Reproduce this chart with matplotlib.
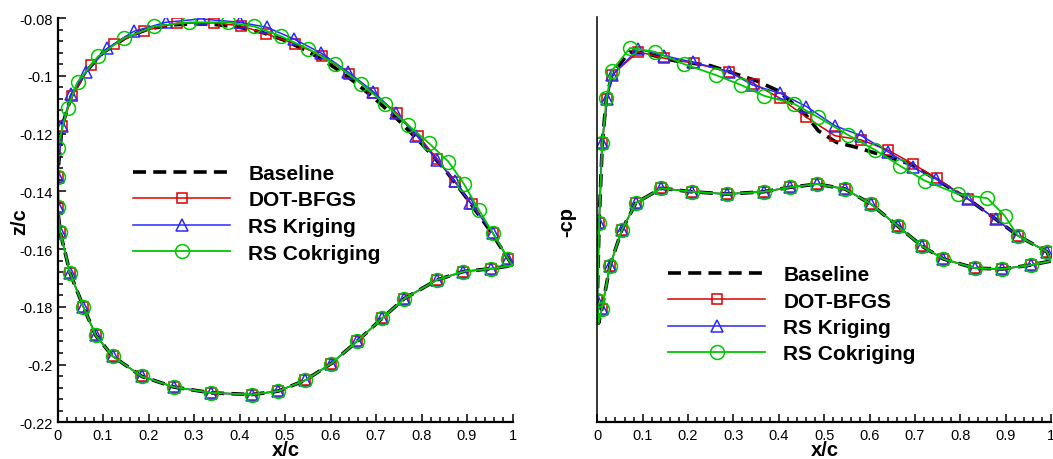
import matplotlib
matplotlib.use("Agg")
import matplotlib.pyplot as plt
from matplotlib.ticker import MultipleLocator, FuncFormatter

plt.rcParams['font.family'] = ['Liberation Sans', 'DejaVu Sans']

# ---------------- data : left panel (airfoil shape z/c vs x/c) ----------------
# lower surface (shared by all designs), leading edge -> trailing edge
x_low = [0.006, 0.0275, 0.057, 0.084, 0.121, 0.185, 0.256, 0.338, 0.427, 0.485,
         0.544, 0.601, 0.659, 0.714, 0.762, 0.834, 0.892, 0.953, 1.0]
z_low = [-0.1542, -0.1683, -0.1801, -0.1899, -0.1971, -0.2041, -0.2078, -0.2098, -0.2104, -0.2092,
         -0.2055, -0.1997, -0.1919, -0.1839, -0.1772, -0.1707, -0.1678, -0.1668, -0.1657]

# upper surfaces, leading edge -> trailing edge
x_up_base = [0.0, 0.0, 0.01, 0.03, 0.06, 0.10, 0.15, 0.20, 0.25, 0.30, 0.35, 0.40, 0.45, 0.50,
             0.55, 0.60, 0.65, 0.70, 0.75, 0.80, 0.85, 0.90, 0.95, 1.0]
z_up_base = [-0.1455, -0.135, -0.1175, -0.1072, -0.0990, -0.0920, -0.0868, -0.0838, -0.0824, -0.0820,
             -0.0823, -0.0832, -0.0850, -0.0878, -0.0915, -0.0962, -0.1018, -0.1083, -0.1155, -0.1235,
             -0.1322, -0.1425, -0.1535, -0.1657]

x_up_dot = [0.0, 0.0, 0.0106, 0.0326, 0.073, 0.124, 0.190, 0.263, 0.344, 0.403, 0.459, 0.522, 0.581,
            0.640, 0.694, 0.746, 0.793, 0.834, 0.874, 0.910, 0.957, 0.991, 1.0]
z_up_dot = [-0.1455, -0.135, -0.1173, -0.1069, -0.0963, -0.0890, -0.0844, -0.0818, -0.0817, -0.0827,
            -0.0855, -0.0890, -0.0930, -0.0994, -0.1060, -0.1130, -0.1207, -0.1288, -0.1369, -0.1444,
            -0.1545, -0.1636, -0.1657]

x_up_krg = [0.0, 0.0, 0.0106, 0.0297, 0.0626, 0.1095, 0.168, 0.238, 0.315, 0.401, 0.460, 0.520, 0.579,
            0.638, 0.694, 0.743, 0.789, 0.833, 0.874, 0.907, 0.957, 0.991, 1.0]
z_up_krg = [-0.1455, -0.135, -0.1173, -0.1063, -0.0988, -0.0905, -0.0846, -0.0815, -0.0803, -0.0815,
            -0.0832, -0.0873, -0.0921, -0.0986, -0.1055, -0.1130, -0.1207, -0.1291, -0.1366, -0.1440,
            -0.1545, -0.1636, -0.1657]

x_up_ck = [0.0, 0.0, 0.0, 0.022, 0.044, 0.089, 0.146, 0.213, 0.289, 0.374, 0.432, 0.491, 0.551, 0.610,
           0.668, 0.720, 0.770, 0.816, 0.859, 0.893, 0.926, 0.957, 0.991, 1.0]
z_up_ck = [-0.1455, -0.135, -0.125, -0.1111, -0.1022, -0.0933, -0.0870, -0.0829, -0.0815, -0.0815,
           -0.0829, -0.0863, -0.0907, -0.0959, -0.1028, -0.1098, -0.1170, -0.1233, -0.1297, -0.1374,
           -0.1464, -0.1545, -0.1636, -0.1657]

# ---------------- data : right panel (-cp vs x/c) ----------------
# lower surface (shared), stagnation point -> trailing edge
x_cp_lo = [0.003, 0.010, 0.028, 0.054, 0.085, 0.141, 0.208, 0.285, 0.367, 0.425, 0.485, 0.546,
           0.603, 0.662, 0.716, 0.763, 0.833, 0.893, 0.955, 1.0]
cp_lo = [-0.914, -0.817, -0.517, -0.271, -0.084, 0.018, -0.006, -0.022, -0.006, 0.025, 0.047, 0.013,
         -0.091, -0.243, -0.383, -0.471, -0.535, -0.540, -0.513, -0.485]

# upper surfaces, stagnation point -> trailing edge
x_cp_up_base = [0.003, 0.0, 0.004, 0.011, 0.020, 0.032, 0.07, 0.10, 0.17, 0.25, 0.35, 0.40, 0.461,
                0.487, 0.527, 0.571, 0.612, 0.645, 0.696, 0.746, 0.817, 0.878, 0.927, 0.991, 1.0]
cp_up_base = [-0.914, -0.753, -0.222, 0.331, 0.640, 0.80, 0.96, 0.955, 0.90, 0.865, 0.762, 0.69, 0.52,
              0.416, 0.336, 0.301, 0.262, 0.232, 0.178, 0.08, -0.056, -0.195, -0.310, -0.421, -0.485]

x_cp_up_dot = [0.003, 0.0, 0.004, 0.011, 0.022, 0.032, 0.090, 0.148, 0.214, 0.291, 0.346, 0.403, 0.461,
               0.524, 0.582, 0.640, 0.696, 0.748, 0.817, 0.878, 0.927, 0.991, 1.0]
cp_up_dot = [-0.914, -0.753, -0.222, 0.331, 0.635, 0.801, 0.962, 0.917, 0.882, 0.824, 0.739, 0.640, 0.509,
             0.381, 0.352, 0.283, 0.186, 0.087, -0.056, -0.195, -0.310, -0.421, -0.485]

x_cp_up_krg = [0.003, 0.0, 0.004, 0.010, 0.022, 0.033, 0.090, 0.148, 0.212, 0.291, 0.342, 0.403, 0.461,
               0.524, 0.582, 0.640, 0.696, 0.746, 0.817, 0.878, 0.927, 0.991, 1.0]
cp_up_krg = [-0.914, -0.753, -0.222, 0.331, 0.635, 0.801, 0.980, 0.934, 0.889, 0.824, 0.732, 0.675, 0.583,
             0.450, 0.381, 0.271, 0.163, 0.082, -0.056, -0.195, -0.310, -0.421, -0.485]

x_cp_up_ck = [0.003, 0.0, 0.004, 0.011, 0.020, 0.032, 0.072, 0.127, 0.191, 0.261, 0.317, 0.367, 0.434,
              0.487, 0.553, 0.612, 0.667, 0.722, 0.795, 0.860, 0.898, 0.927, 0.991, 1.0]
cp_up_ck = [-0.914, -0.753, -0.222, 0.331, 0.640, 0.831, 0.988, 0.962, 0.877, 0.801, 0.732, 0.658, 0.601,
            0.509, 0.386, 0.283, 0.174, 0.070, -0.022, -0.051, -0.172, -0.310, -0.421, -0.485]

labels = ["Baseline", "DOT-BFGS", "RS Kriging", "RS Cokriging"]
x_ticks = [0, 0.1, 0.2, 0.3, 0.4, 0.5, 0.6, 0.7, 0.8, 0.9, 1]
z_ticks = [-0.22, -0.2, -0.18, -0.16, -0.14, -0.12, -0.1, -0.08]

# ---------------- styling ----------------
RED = '#DD0000'
BLUE = '#2828FF'
GREEN = '#00C800'
W, H = 1053, 460
fig = plt.figure(figsize=(W / 100, H / 100), dpi=100)

ax1 = fig.add_axes([57.5 / W, 1 - 423.3 / H, 455 / W, (423.3 - 19) / H])
ax2 = fig.add_axes([597.3 / W, 1 - 423.3 / H, 453.7 / W, (423.3 - 18.3) / H])

fmt = FuncFormatter(lambda v, p: ('%g' % round(v, 4)))

series_style = [
    dict(color='black', lw=2.6, ls=(0, (3.6, 2.0)), marker=None),
    dict(color=RED, lw=1.1, ls='-', marker='s', ms=7.5),
    dict(color=BLUE, lw=1.1, ls='-', marker='^', ms=8.5),
    dict(color=GREEN, lw=1.3, ls='-', marker='o', ms=10),
]


def plot_series(ax, x, y, st, label, mk_idx):
    kw = dict(color=st['color'], lw=st['lw'], ls=st['ls'], label=label)
    if st['marker']:
        kw.update(marker=st['marker'], ms=st['ms'], mfc='none', mec=st['color'],
                  mew=1.1, markevery=mk_idx)
    return ax.plot(x, y, **kw)[0]


# ----- left panel -----
uppers = [(x_up_base, z_up_base), (x_up_dot, z_up_dot), (x_up_krg, z_up_krg), (x_up_ck, z_up_ck)]
handles = []
for (xu, zu), st, lab in zip(uppers, series_style, labels):
    xs = list(reversed(xu)) + x_low
    zs = list(reversed(zu)) + z_low
    idx = list(range(1, len(xs) - 1))
    handles.append(plot_series(ax1, xs, zs, st, lab, idx))

ax1.set_xlim(0, 1)
ax1.set_ylim(-0.22, -0.08)
ax1.set_xticks(x_ticks)
ax1.set_yticks(z_ticks)
ax1.xaxis.set_major_formatter(fmt)
ax1.yaxis.set_major_formatter(fmt)
ax1.xaxis.set_minor_locator(MultipleLocator(0.02))
ax1.yaxis.set_minor_locator(MultipleLocator(0.004))
for s in ['top', 'right']:
    ax1.spines[s].set_visible(False)
for s in ['left', 'bottom']:
    ax1.spines[s].set_linewidth(1.6)
ax1.tick_params(which='both', direction='in', labelsize=10.5, width=1.1, color='black')
ax1.tick_params(which='major', length=6)
ax1.tick_params(which='minor', length=3.5)
ax1.tick_params(axis='x', pad=4)
ax1.tick_params(axis='y', pad=3.5)

# ----- right panel -----
cp_uppers = [(x_cp_up_base, cp_up_base), (x_cp_up_dot, cp_up_dot),
             (x_cp_up_krg, cp_up_krg), (x_cp_up_ck, cp_up_ck)]
handles2 = []
for (xu, cu), st, lab in zip(cp_uppers, series_style, labels):
    xs = list(reversed(x_cp_lo)) + xu[1:]
    cs = list(reversed(cp_lo)) + cu[1:]
    nlo = len(x_cp_lo)
    idx = [i for i in range(1, len(xs) - 1) if i != nlo - 1]
    handles2.append(plot_series(ax2, xs, cs, st, lab, idx))

ax2.set_xlim(0, 1)
ax2.set_ylim(-1.6, 1.2)
ax2.set_xticks(x_ticks)
ax2.xaxis.set_major_formatter(fmt)
ax2.xaxis.set_minor_locator(MultipleLocator(0.02))
ax2.set_yticks([])
for s in ['top', 'right']:
    ax2.spines[s].set_visible(False)
ax2.spines['bottom'].set_linewidth(1.6)
ax2.spines['left'].set_linewidth(1.1)
ax2.tick_params(axis='x', which='both', direction='in', labelsize=10.5, width=1.1, pad=4)
ax2.tick_params(axis='x', which='major', length=6)
ax2.tick_params(axis='x', which='minor', length=3.5)
for a in (ax1, ax2):
    for t in a.get_xticklabels():
        t.set_clip_on(False)

# ----- axis labels -----
lab_kw = dict(fontsize=14.5, fontweight='bold', ha='center', va='center')
fig.text(286 / W, 1 - 451 / H, 'x/c', **lab_kw)
fig.text(825 / W, 1 - 451 / H, 'x/c', **lab_kw)
fig.text(20 / W, 1 - 222 / H, 'z/c', rotation=90, **lab_kw)
fig.text(567 / W, 1 - 222 / H, '-cp', rotation=90, **lab_kw)

# ----- legends -----
leg_kw = dict(frameon=False, loc='upper left', handlelength=4.66, handletextpad=0.87,
              labelspacing=0.36, borderpad=0, borderaxespad=0, numpoints=1,
              prop=dict(size=15, weight='bold'))
fig.legend(handles, labels, bbox_to_anchor=(133 / W, 1 - 165 / H), **leg_kw)
fig.legend(handles2, labels, bbox_to_anchor=(668 / W, 1 - 266 / H), **leg_kw)

fig.savefig('out.png', dpi=100)
